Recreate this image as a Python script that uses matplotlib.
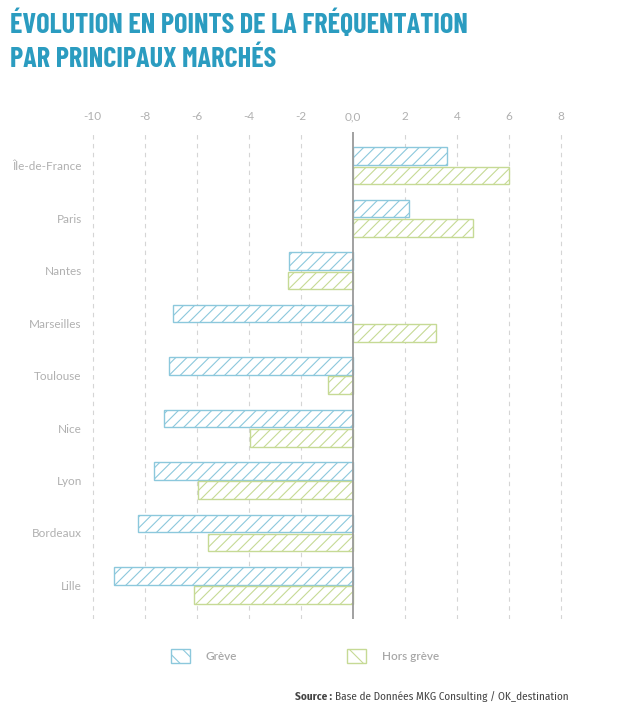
import matplotlib
matplotlib.use("Agg")
import matplotlib.pyplot as plt
from matplotlib.patches import Patch
from matplotlib import font_manager
from matplotlib.font_manager import FontProperties

# data
marches = ["Île-de-France", "Paris", "Nantes", "Marseilles", "Toulouse",
           "Nice", "Lyon", "Bordeaux", "Lille"]
greve = [3.6, 2.15, -2.45, -6.9, -7.05, -7.25, -7.65, -8.25, -9.2]
hors_greve = [6.0, 4.6, -2.5, 3.2, -0.95, -3.95, -5.95, -5.55, -6.1]
xticks = [-10, -8, -6, -4, -2, 0, 2, 4, 6, 8]
xtick_labels = ["-10", "-8", "-6", "-4", "-2", "0,0", "2", "4", "6", "8"]

W, H = 619, 717
installed = {f.name for f in font_manager.fontManager.ttflist}


def pick(*names):
    for n in names:
        if n in installed:
            return n
    return "DejaVu Sans"


def wnum(w):
    if isinstance(w, str):
        return font_manager.weight_dict.get(w, 400)
    return w


def narrow(f):
    s = (str(f.stretch) + " " + f.name + " " + f.fname).lower()
    return "condensed" in s or "narrow" in s


def faces(bold):
    out = []
    for f in font_manager.fontManager.ttflist:
        if "Mono" in f.name or "Serif" in f.name or "mono" in f.fname.lower():
            continue
        if "italic" in str(f.style) or "oblique" in str(f.style):
            continue
        if "italic" in f.fname.lower():
            continue
        w = wnum(f.weight)
        if bold and not (650 <= w <= 750):
            continue
        if not bold and not (380 <= w <= 420):
            continue
        out.append(f)
    return out


def best_face(fig, text, bold, size, target, only_narrow=True):
    # choose the face whose width at `size` is closest to the target width
    r = fig.canvas.get_renderer()
    best, bestd = None, None
    for f in faces(bold):
        if only_narrow and not narrow(f):
            continue
        t = fig.text(0, 0, text, fontproperties=FontProperties(fname=f.fname, size=size))
        d = abs(t.get_window_extent(r).width - target)
        t.remove()
        if bestd is None or d < bestd or (d == bestd and f.fname < best.fname):
            best, bestd = f, d
    return best


def props(face, bold, size):
    if face is None:
        return FontProperties(family="DejaVu Sans",
                              weight="bold" if bold else "normal", size=size)
    return FontProperties(fname=face.fname, size=size)


def bold_twin(face):
    # bold face of the same family (and stretch) as `face`
    if face is None:
        return None
    for f in sorted(faces(True), key=lambda f: f.fname):
        if f.name == face.name and str(f.stretch) == str(face.stretch):
            return f
    return face


label_font = pick("Lato", "Open Sans")

plt.rcParams["hatch.linewidth"] = 0.8
blue = "#8cc8dc"
green = "#c6da95"
grey_txt = "#b0b0b0"

fig = plt.figure(figsize=(W / 100, H / 100), dpi=100)
ax = fig.add_axes([90.1 / W, 1 - 619 / H, 473.5 / W, 487 / H])

y = list(range(len(marches)))
h = 0.335
off = 0.184
ax.barh([v - off for v in y], greve, height=h, facecolor="white",
        edgecolor=blue, hatch="///", linewidth=1.0, zorder=3)
ax.barh([v + off for v in y], hors_greve, height=h, facecolor="white",
        edgecolor=green, hatch="///", linewidth=1.0, zorder=3)

for t in xticks:
    if t != 0:
        ax.axvline(t, color="#d5d5d5", lw=0.8, ls=(0, (4, 4)), zorder=1)
ax.axvline(0, color="#9a9a9a", lw=1.3, zorder=4)

ax.set_xlim(-10.1, 8.1)
ax.set_ylim(8.64, -0.645)
ax.xaxis.tick_top()
ax.set_xticks(xticks)
ax.set_xticklabels(xtick_labels, fontfamily=label_font, fontsize=8.5, color=grey_txt)
ax.set_yticks(y)
ax.set_yticklabels(marches, fontfamily=label_font, fontsize=8.5, color=grey_txt)
ax.tick_params(axis="x", length=0, pad=7)
ax.tick_params(axis="y", length=0, pad=6)
for s in ax.spines.values():
    s.set_visible(False)

# title: caps about 20 px tall, first line about 458 px wide
renderer = fig.canvas.get_renderer()
line1 = "ÉVOLUTION EN POINTS DE LA FRÉQUENTATION"
tprop = props(best_face(fig, line1, True, 20, 458), True, 20)
t1 = fig.text(10 / W, 1 - 33.3 / H, line1,
              fontproperties=tprop, color="#2b9cc0", va="baseline", ha="left")
fs = min(20 * 458 / t1.get_window_extent(renderer).width, 21)
tprop.set_size(fs)
t1.set_fontproperties(tprop)
fig.text(10 / W, 1 - 66.7 / H, "PAR PRINCIPAUX MARCHÉS",
         fontproperties=tprop, color="#2b9cc0", va="baseline", ha="left")

# legend
handles = [Patch(facecolor="white", edgecolor=blue, hatch="\\\\", linewidth=1.0),
           Patch(facecolor="white", edgecolor=green, hatch="\\\\", linewidth=1.0)]
fig.legend(handles, ["Grève", "Hors grève"], loc="center left",
           bbox_to_anchor=(171 / W, 1 - 656 / H), ncol=2, frameon=False,
           borderpad=0, borderaxespad=0, handlelength=1.6, handleheight=1.55,
           handletextpad=1.35, columnspacing=9.3,
           prop={"family": label_font, "size": 8.5, "weight": "semibold"},
           labelcolor="#a8a8a8")

# source line, about 274 px wide at ~8 pt
src = "Base de Données MKG Consulting / OK_destination"
rface = best_face(fig, "Source : " + src, False, 8, 274)
sr = props(rface, False, 8)
sb = props(bold_twin(rface), True, 8)
s1 = fig.text(295 / W, 1 - 697 / H, "Source :", fontproperties=sb,
              color="#444444", va="center", ha="left")
s2 = fig.text(0, 1 - 697 / H, src,
              fontproperties=sr, color="#444444", va="center", ha="left")
w_all = s1.get_window_extent(renderer).width + 3 + s2.get_window_extent(renderer).width
k = 274 / w_all
sb.set_size(8 * k)
sr.set_size(8 * k)
s1.set_fontproperties(sb)
s2.set_fontproperties(sr)
x1 = s1.get_window_extent(renderer).x1
s2.set_x((x1 + 3) / W)

fig.savefig("out.png", dpi=100)
